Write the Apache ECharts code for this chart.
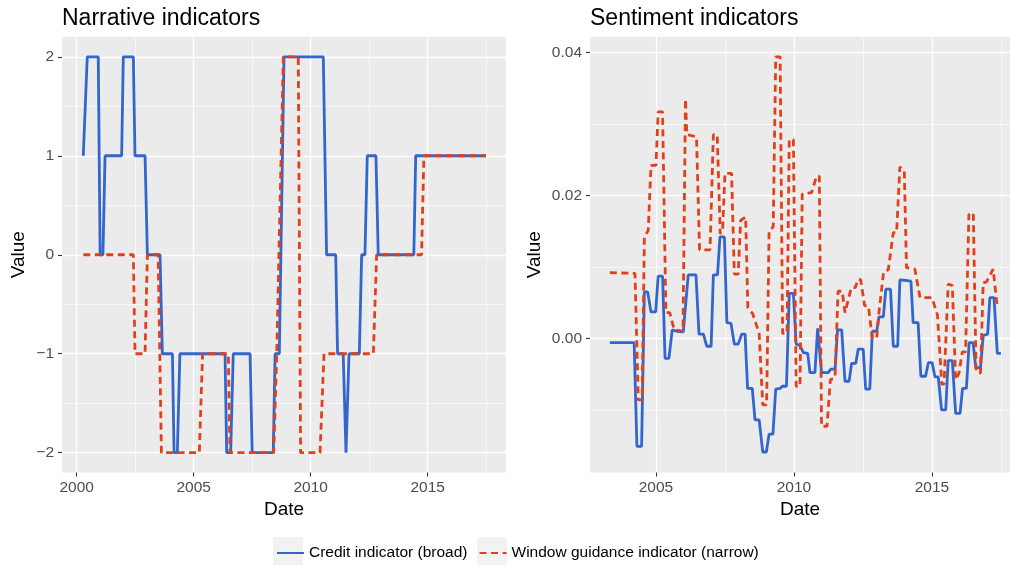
<!DOCTYPE html>
<html><head><meta charset="utf-8">
<script src="https://cdn.jsdelivr.net/npm/echarts@6/dist/echarts.min.js"></script>
<style>html,body{margin:0;padding:0;background:#fff}#c{width:1010px;height:565px}</style>
</head><body><div id="c"></div><script>
const legendNames = ['Credit indicator (broad)', 'Window guidance indicator (narrow)'];
const panelTitles = ['Narrative indicators', 'Sentiment indicators'];
const yearTicks = [2000, 2005, 2010, 2015];
const yearMinorLeft = [2002.5, 2007.5, 2012.5, 2017.5];
const yearMinorRight = [2007.5, 2012.5, 2017.5];
const narrTicks = [-2, -1, 0, 1, 2];
const narrMinor = [-1.5, -0.5, 0.5, 1.5];
const sentTicks = [0, 0.02, 0.04];
const sentMinor = [-0.01, 0.01, 0.03];

const narrCredit = [[2000.28,1],[2000.36,1],[2000.45,2],[2000.92,2],[2001.0,0],[2001.12,0],[2001.21,1],[2001.92,1],[2001.99,2],[2002.42,2],[2002.49,1],[2002.92,1],[2003.02,0],[2003.56,0],[2003.66,-1],[2004.09,-1],[2004.16,-2],[2004.30,-2],[2004.41,-1],[2006.34,-1],[2006.41,-2],[2006.58,-2],[2006.69,-1],[2007.41,-1],[2007.50,-2],[2008.40,-2],[2008.48,-1],[2008.66,-1],[2008.86,2],[2010.54,2],[2010.68,0],[2011.07,0],[2011.15,-1],[2011.39,-1],[2011.51,-2],[2011.64,-1],[2012.08,-1],[2012.18,0],[2012.32,0],[2012.42,1],[2012.79,1],[2012.89,0],[2014.41,0],[2014.49,1],[2017.49,1]];
const narrWindow = [[2000.28,0],[2002.42,0],[2002.49,-1],[2002.92,-1],[2003.02,0],[2003.48,0],[2003.62,-2],[2005.24,-2],[2005.38,-1],[2006.48,-1],[2006.55,-2],[2008.42,-2],[2008.55,-1],[2008.83,2],[2009.47,2],[2009.57,-2],[2010.40,-2],[2010.57,-1],[2012.68,-1],[2012.82,0],[2014.74,0],[2014.84,1],[2017.49,1]];
const sentCredit = [[2003.33,-0.0006],[2004.21,-0.0006],[2004.31,-0.0151],[2004.48,-0.0151],[2004.58,0.0065],[2004.70,0.0065],[2004.82,0.0037],[2004.99,0.0037],[2005.08,0.0087],[2005.24,0.0087],[2005.33,-0.0028],[2005.47,-0.0028],[2005.59,0.0012],[2005.75,0.0010],[2005.99,0.0009],[2006.17,0.0089],[2006.45,0.0089],[2006.56,0.0006],[2006.72,0.0006],[2006.84,-0.0011],[2007.00,-0.0011],[2007.08,0.0089],[2007.23,0.0089],[2007.32,0.0142],[2007.48,0.0142],[2007.57,0.0022],[2007.72,0.0021],[2007.84,-0.0008],[2007.98,-0.0008],[2008.11,0.0006],[2008.23,0.0006],[2008.32,-0.0070],[2008.49,-0.0070],[2008.59,-0.0114],[2008.74,-0.0114],[2008.87,-0.0159],[2009.00,-0.0159],[2009.10,-0.0134],[2009.24,-0.0134],[2009.34,-0.0071],[2009.50,-0.0070],[2009.58,-0.0067],[2009.73,-0.0067],[2009.83,0.0063],[2009.98,0.0063],[2010.08,-0.0008],[2010.22,-0.0010],[2010.34,-0.0020],[2010.50,-0.0021],[2010.58,-0.0048],[2010.76,-0.0048],[2010.86,0.0014],[2010.91,0.0013],[2011.00,-0.0048],[2011.24,-0.0048],[2011.34,-0.0043],[2011.49,-0.0043],[2011.58,0.0012],[2011.73,0.0012],[2011.85,-0.0060],[2012.00,-0.0060],[2012.09,-0.0035],[2012.24,-0.0035],[2012.33,-0.0015],[2012.51,-0.0015],[2012.60,-0.0071],[2012.75,-0.0071],[2012.84,0.0010],[2013.00,0.0010],[2013.08,0.0030],[2013.24,0.0030],[2013.33,0.0069],[2013.50,0.0069],[2013.60,-0.0011],[2013.76,-0.0011],[2013.84,0.0082],[2014.08,0.0081],[2014.24,0.0080],[2014.32,0.0022],[2014.50,0.0022],[2014.60,-0.0053],[2014.77,-0.0053],[2014.87,-0.0034],[2015.01,-0.0034],[2015.11,-0.0054],[2015.23,-0.0054],[2015.35,-0.0100],[2015.50,-0.0100],[2015.59,-0.0031],[2015.74,-0.0031],[2015.86,-0.0105],[2016.02,-0.0105],[2016.11,-0.0070],[2016.25,-0.0070],[2016.35,-0.0006],[2016.49,-0.0006],[2016.59,-0.0041],[2016.76,-0.0041],[2016.86,0.0004],[2017.02,0.0006],[2017.10,0.0057],[2017.25,0.0057],[2017.37,-0.0021],[2017.50,-0.0021]];
const sentWindow = [[2003.33,0.0092],[2004.24,0.0091],[2004.36,-0.0086],[2004.50,-0.0086],[2004.58,0.0142],[2004.72,0.0151],[2004.82,0.0242],[2005.00,0.0242],[2005.08,0.0317],[2005.24,0.0317],[2005.36,0.0036],[2005.50,0.0036],[2005.66,0.0012],[2005.98,0.0010],[2006.07,0.0335],[2006.12,0.0285],[2006.25,0.0284],[2006.47,0.0282],[2006.58,0.0124],[2006.96,0.0124],[2007.08,0.0285],[2007.22,0.0285],[2007.33,0.0146],[2007.42,0.0155],[2007.50,0.0231],[2007.74,0.0231],[2007.84,0.0090],[2007.98,0.0090],[2008.07,0.0165],[2008.25,0.0170],[2008.33,0.0043],[2008.50,0.0035],[2008.74,0.0007],[2008.87,-0.0093],[2009.01,-0.0093],[2009.10,0.0151],[2009.25,0.0156],[2009.34,0.0394],[2009.50,0.0394],[2009.59,0.0007],[2009.75,0.0007],[2009.83,0.0278],[2009.98,0.0278],[2010.08,-0.0067],[2010.22,-0.0067],[2010.30,0.0202],[2010.64,0.0204],[2010.82,0.0227],[2010.92,0.0227],[2011.00,-0.0123],[2011.20,-0.0123],[2011.32,-0.0058],[2011.49,-0.0055],[2011.60,0.0066],[2011.75,0.0066],[2011.85,0.0036],[2012.08,0.0071],[2012.22,0.0071],[2012.33,0.0083],[2012.42,0.0082],[2012.56,0.0046],[2012.70,0.0045],[2012.84,0.0000],[2013.00,0.0001],[2013.08,0.0036],[2013.25,0.0093],[2013.42,0.0096],[2013.60,0.0148],[2013.72,0.0148],[2013.84,0.0240],[2014.00,0.0234],[2014.08,0.0099],[2014.38,0.0097],[2014.57,0.0057],[2015.00,0.0057],[2015.20,0.0033],[2015.36,-0.0064],[2015.44,-0.0064],[2015.59,0.0076],[2015.74,0.0074],[2015.86,-0.0058],[2015.98,-0.0049],[2016.10,-0.0019],[2016.22,-0.0019],[2016.34,0.0173],[2016.50,0.0176],[2016.60,-0.0045],[2016.76,-0.0049],[2016.86,0.0078],[2016.98,0.0079],[2017.22,0.0097],[2017.35,0.0050],[2017.50,0.0050]];

const FONT = "'Liberation Sans', Arial, Helvetica, sans-serif";
const BLUE = '#3366CC';
const RED = '#E2401B';
const TICK_FS = 15.5;

function mainX(grid, min, max, ticks) {
  return {
    gridIndex: grid, type: 'value', min: min, max: max, position: 'bottom',
    axisLine: { show: false, onZero: false },
    axisTick: { show: true, length: 4, customValues: ticks, lineStyle: { color: '#333333', width: 1.1 } },
    axisLabel: { customValues: ticks, color: '#4d4d4d', fontSize: TICK_FS, fontFamily: FONT, margin: 7, formatter: v => String(Math.round(v)) },
    splitLine: { show: true, lineStyle: { color: '#ffffff', width: 1.3 } },
    name: 'Date', nameLocation: 'middle', nameGap: 27,
    nameTextStyle: { color: '#000', fontSize: 19, fontFamily: FONT }
  };
}
function minorX(grid, min, max, ticks) {
  return {
    gridIndex: grid, type: 'value', min: min, max: max, position: 'top',
    axisLine: { show: false, onZero: false },
    axisTick: { show: false, customValues: ticks },
    axisLabel: { show: false, customValues: ticks },
    splitLine: { show: true, lineStyle: { color: '#ffffff', width: 0.6 } }
  };
}
function mainY(grid, min, max, ticks, fmt, gap) {
  return {
    gridIndex: grid, type: 'value', min: min, max: max, position: 'left',
    axisLine: { show: false, onZero: false },
    axisTick: { show: true, length: 4, customValues: ticks, lineStyle: { color: '#333333', width: 1.1 } },
    axisLabel: { customValues: ticks, color: '#4d4d4d', fontSize: TICK_FS, fontFamily: FONT, margin: 8, formatter: fmt },
    splitLine: { show: true, lineStyle: { color: '#ffffff', width: 1.3 } },
    name: 'Value', nameLocation: 'middle', nameGap: gap,
    nameTextStyle: { color: '#000', fontSize: 19, fontFamily: FONT }
  };
}
function minorY(grid, min, max, ticks) {
  return {
    gridIndex: grid, type: 'value', min: min, max: max, position: 'right',
    axisLine: { show: false, onZero: false },
    axisTick: { show: false, customValues: ticks },
    axisLabel: { show: false, customValues: ticks },
    splitLine: { show: true, lineStyle: { color: '#ffffff', width: 0.6 } }
  };
}
function lineSeries(name, data, xi, yi, dashed) {
  return {
    name: name, type: 'line', data: data, xAxisIndex: xi, yAxisIndex: yi,
    symbol: 'none', showSymbol: false, animation: false, z: dashed ? 4 : 3,
    lineStyle: { color: dashed ? RED : BLUE, width: 2.8, type: dashed ? [7, 4.5] : 'solid', cap: 'butt' },
    itemStyle: { color: dashed ? RED : BLUE }
  };
}
const narrFmt = v => (v < 0 ? '\u2212' + Math.abs(v) : String(v));
const sentFmt = v => Number(v).toFixed(2);

const chart = echarts.init(document.getElementById('c'), null, { renderer: 'canvas' });
chart.setOption({
  backgroundColor: '#ffffff',
  animation: false,
  textStyle: { fontFamily: FONT },
  title: [
    { text: panelTitles[0], left: 57, top: 2, textStyle: { fontSize: 23, fontWeight: 'normal', color: '#000', fontFamily: FONT } },
    { text: panelTitles[1], left: 585, top: 2, textStyle: { fontSize: 23, fontWeight: 'normal', color: '#000', fontFamily: FONT } }
  ],
  grid: [
    { left: 62, top: 37, width: 444, height: 435.5, show: true, backgroundColor: '#ebebeb', borderWidth: 0 },
    { left: 590, top: 37, width: 420, height: 435.5, show: true, backgroundColor: '#ebebeb', borderWidth: 0 }
  ],
  xAxis: [
    mainX(0, 1999.37, 2018.35, yearTicks),
    minorX(0, 1999.37, 2018.35, yearMinorLeft),
    mainX(1, 2002.61, 2017.83, yearTicks),
    minorX(1, 2002.61, 2017.83, yearMinorRight)
  ],
  yAxis: [
    mainY(0, -2.2, 2.2, narrTicks, narrFmt, 34),
    minorY(0, -2.2, 2.2, narrMinor),
    mainY(1, -0.01877, 0.04218, sentTicks, sentFmt, 46),
    minorY(1, -0.01877, 0.04218, sentMinor)
  ],
  legend: {
    data: legendNames, left: 271, top: 540, itemWidth: 27, itemHeight: 16, itemGap: 11,
    itemStyle: { opacity: 0 },
    textStyle: { fontSize: TICK_FS, color: '#000', fontFamily: FONT }
  },
  graphic: [
    { type: 'rect', shape: { x: 273, y: 537, width: 30, height: 28 }, style: { fill: '#f2f2f2' }, z: -10, silent: true },
    { type: 'rect', shape: { x: 477, y: 537, width: 30, height: 28 }, style: { fill: '#f2f2f2' }, z: -10, silent: true }
  ],
  series: [
    lineSeries(legendNames[0], narrCredit, 0, 0, false),
    lineSeries(legendNames[1], narrWindow, 0, 0, true),
    lineSeries(legendNames[0], sentCredit, 2, 2, false),
    lineSeries(legendNames[1], sentWindow, 2, 2, true)
  ]
});
</script></body></html>
